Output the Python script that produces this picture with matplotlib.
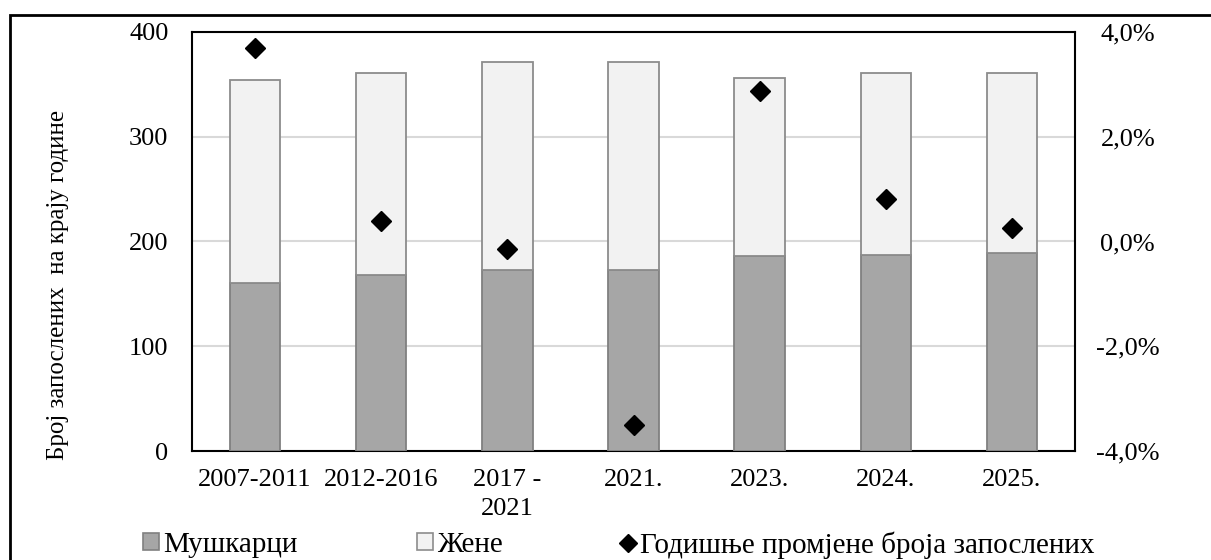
import numpy as np
import matplotlib
matplotlib.use("Agg")
import matplotlib.pyplot as plt
from matplotlib.patches import Rectangle, Patch
from matplotlib.lines import Line2D
from matplotlib.ticker import FuncFormatter

plt.rcParams['font.family'] = ['Liberation Serif', 'DejaVu Serif']

# data
categories = ['2007-2011', '2012-2016', '2017 -\n2021', '2021.', '2023.', '2024.', '2025.']
men = [160, 168, 173, 173, 186, 187, 189]
women = [194, 193, 198, 198, 170, 174, 172]
annual_change = [3.7, 0.4, -0.15, -3.5, 2.87, 0.81, 0.25]  # percent

W, H = 1211, 560
fig = plt.figure(figsize=(W / 100, H / 100), dpi=100)
ax = fig.add_axes([192 / W, 1 - 451 / H, (1075 - 192) / W, (451 - 32) / H])

FS = 19
x = np.arange(len(categories))
men_color, men_edge = '#a6a6a6', '#808080'
women_color, women_edge = '#f2f2f2', '#8c8c8c'

ax.bar(x, men, width=0.4, color=men_color, edgecolor=men_edge, linewidth=1.3, zorder=3)
ax.bar(x, women, width=0.4, bottom=men, color=women_color, edgecolor=women_edge,
       linewidth=1.3, zorder=3)

ax.set_ylim(0, 400)
ax.set_xlim(-0.5, len(categories) - 0.5)
ax.set_yticks([0, 100, 200, 300, 400])
ax.yaxis.grid(True, color='#d9d9d9', linewidth=1.5, zorder=0)
ax.set_axisbelow(True)
ax.set_xticks(x)
ax.set_xticklabels(categories, fontsize=FS, linespacing=1.4)
ax.tick_params(axis='both', length=0, labelsize=FS)
ax.tick_params(axis='y', pad=17)
ax.tick_params(axis='x', pad=13)
for sp in ax.spines.values():
    sp.set_color('black')
    sp.set_linewidth(1.5)

ax2 = ax.twinx()
ax2.plot(x, annual_change, linestyle='none', marker='D', markersize=10,
         color='black', zorder=5)
ax2.set_ylim(-4, 4)
ax2.set_yticks([-4, -2, 0, 2, 4])
ax2.yaxis.set_major_formatter(FuncFormatter(lambda v, p: f'{v:.1f}%'.replace('.', ',')))
ax2.tick_params(axis='y', length=0, labelsize=FS, pad=38)
plt.setp(ax2.get_yticklabels(), ha='center')
for sp in ax2.spines.values():
    sp.set_visible(False)

fig.text(58 / W, 1 - 285 / H, 'Број запослених  на крају године', rotation=90,
         fontsize=18, ha='center', va='center')

# legend entries placed like the original
leg_y = 1 - 545 / H
entries = [
    (Patch(facecolor=men_color, edgecolor=men_edge, linewidth=1.2), 'Мушкарци', 143),
    (Patch(facecolor=women_color, edgecolor=women_edge, linewidth=1.2), 'Жене', 417),
    (Line2D([], [], linestyle='none', marker='D', markersize=9, color='black'),
     'Годишње промјене броја запослених', 620),
]
for handle, label, px in entries:
    fig.legend([handle], [label], loc='center left', bbox_to_anchor=(px / W, leg_y),
               frameon=False, fontsize=21, handlelength=0.55, handleheight=0.55,
               handletextpad=0.15, borderaxespad=0, borderpad=0)

# outer chart frame (cut by the image edge on the right and bottom)
fig.patches.append(Rectangle((10 / W, -0.1), 1.2, 1 - 15 / H + 0.1, transform=fig.transFigure,
                             fill=False, edgecolor='black', linewidth=2))

fig.savefig('out.png', dpi=100)
